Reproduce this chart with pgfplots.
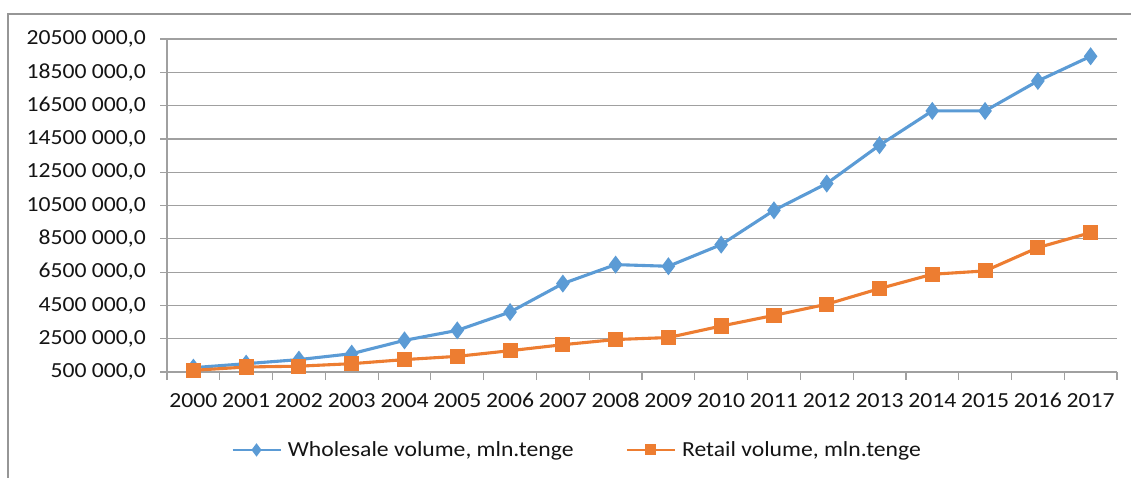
\documentclass[border=0pt]{standalone}
\usepackage{fontspec}
\setmainfont{Carlito}[FakeStretch=1.1]
\usepackage{pgfplots}
\pgfplotsset{compat=1.18}
\definecolor{cblue}{RGB}{91,155,213}
\definecolor{corange}{RGB}{237,125,49}
\definecolor{gridc}{RGB}{160,160,160}
\definecolor{framec}{RGB}{150,150,150}
\definecolor{txt}{RGB}{20,20,20}
\begin{document}
\begin{tikzpicture}[x=1pt,y=1pt]
\draw[framec, line width=1.2pt] (8,-5) -- (8,463) -- (1140,463);
\begin{axis}[
  at={(167pt,105pt)}, anchor=south west,
  scale only axis, width=950pt, height=333pt,
  xmin=-0.5, xmax=17.5, ymin=500000, ymax=20500000,
  scaled y ticks=false,
  xtick={0,1,2,3,4,5,6,7,8,9,10,11,12,13,14,15,16,17},
  xticklabels={2000,2001,2002,2003,2004,2005,2006,2007,2008,2009,2010,2011,2012,2013,2014,2015,2016,2017},
  minor xtick={-0.5,0.5,1.5,2.5,3.5,4.5,5.5,6.5,7.5,8.5,9.5,10.5,11.5,12.5,13.5,14.5,15.5,16.5,17.5},
  ytick={500000,2500000,4500000,6500000,8500000,10500000,12500000,14500000,16500000,18500000,20500000},
  yticklabels={{500 000,0},{2500 000,0},{4500 000,0},{6500 000,0},{8500 000,0},{10500 000,0},{12500 000,0},{14500 000,0},{16500 000,0},{18500 000,0},{20500 000,0}},
  ymajorgrids, major grid style={gridc, line width=1.2pt},
  axis x line*=bottom, axis y line*=left,
  axis line style={gridc, line width=1.2pt},
  tick align=outside,
  major tick length=7pt, minor tick length=8pt,
  tick style={gridc, line width=1.2pt},
  major x tick style={draw=none},
  ticklabel style={font=\fontsize{21.5}{25}\selectfont, text=txt, inner sep=0pt},
  yticklabel style={anchor=east, xshift=-14pt},
  xticklabel style={anchor=north, yshift=-14pt},
  clip=false,
  legend columns=2,
  legend style={at={(0.0674,-0.234)}, anchor=west, draw=none, fill=none, inner sep=0pt,
    font=\fontsize{21.5}{25}\selectfont, text=txt,
    /tikz/every odd column/.append style={column sep=4pt},
    /tikz/every even column/.append style={column sep=50pt}},
  legend cell align=left,
  legend image code/.code={\draw[mark repeat=2,mark phase=2,#1,line width=2.6pt,mark options={scale=0.7}] plot coordinates {(0pt,0pt) (24pt,0pt) (48pt,0pt)};},
]
\addplot[cblue, line width=3.1pt, mark=diamond*, mark size=6.5pt] coordinates {
(0,760000) (1,1000000) (2,1245000) (3,1600000) (4,2400000) (5,3000000) (6,4100000) (7,5810000) (8,6950000) (9,6850000) (10,8150000) (11,10210000) (12,11820000) (13,14120000) (14,16180000) (15,16180000) (16,17980000) (17,19460000)};
\addlegendentry{Wholesale volume, mln.tenge}
\addplot[corange, line width=3.1pt, mark=square*, mark size=6pt] coordinates {
(0,600000) (1,800000) (2,850000) (3,1000000) (4,1245000) (5,1440000) (6,1780000) (7,2140000) (8,2450000) (9,2570000) (10,3260000) (11,3900000) (12,4570000) (13,5510000) (14,6370000) (15,6570000) (16,7970000) (17,8870000)};
\addlegendentry{Retail volume, mln.tenge}
\end{axis}
\pgfresetboundingbox
\useasboundingbox (0,0) rectangle (1131,477);
\end{tikzpicture}
\end{document}
